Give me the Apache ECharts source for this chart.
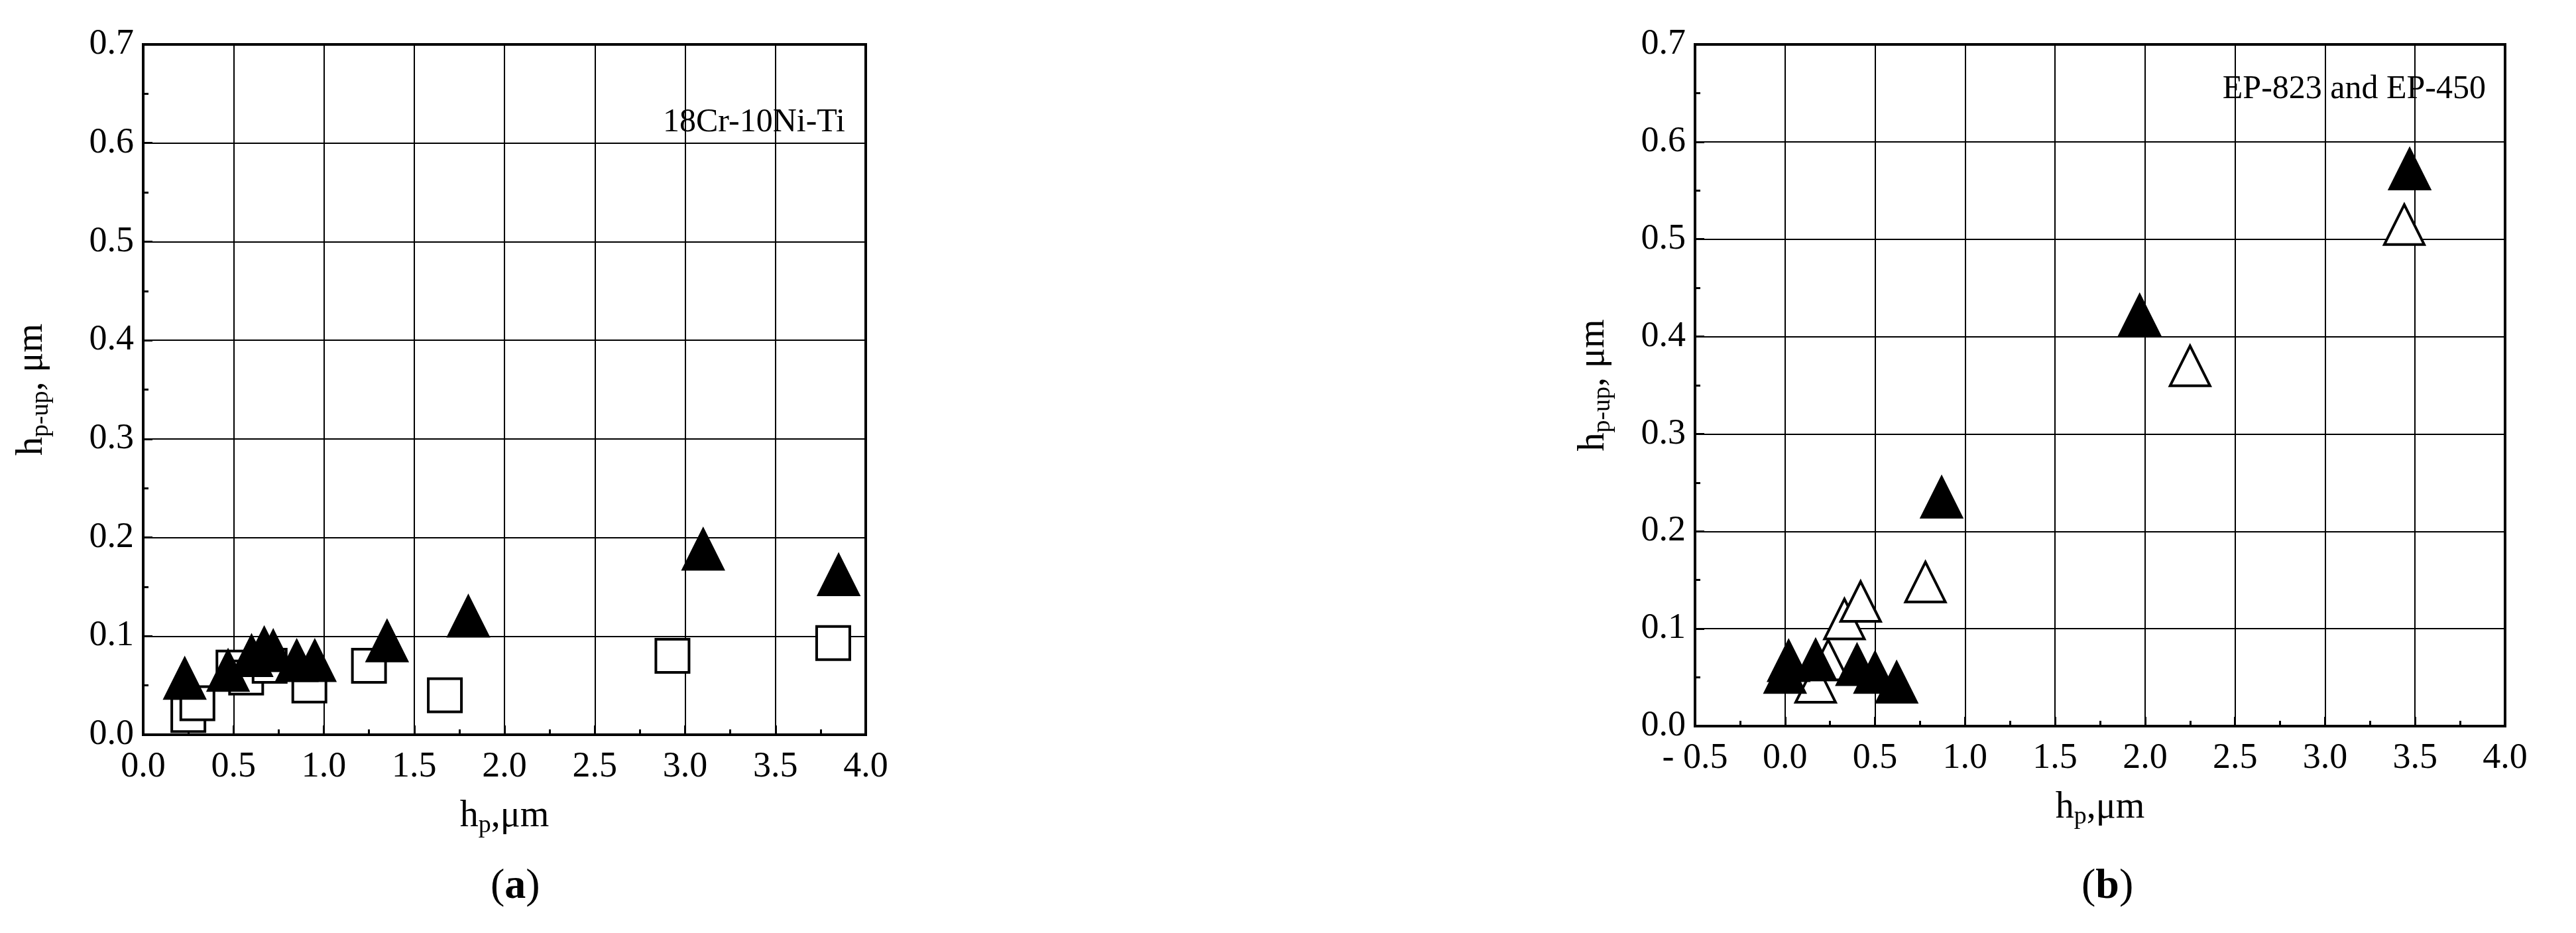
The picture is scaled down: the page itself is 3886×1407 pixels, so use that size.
<!DOCTYPE html>
<html><head><meta charset="utf-8">
<script src="https://cdn.jsdelivr.net/npm/echarts@6/dist/echarts.min.js"></script>
<style>html,body{margin:0;background:#fff}#c{width:3886px;height:1407px}</style>
</head><body><div id="c"></div>
<script>
const aFilled = [[0.23,0.057],[0.47,0.065],[0.6,0.08],[0.67,0.088],[0.72,0.085],[0.85,0.075],[0.95,0.075],[1.35,0.095],[1.8,0.12],[3.1,0.188],[3.85,0.162]];
const aOpen = [[0.25,0.02],[0.3,0.032],[0.5,0.068],[0.57,0.058],[0.7,0.07],[0.92,0.05],[1.25,0.07],[1.67,0.04],[2.93,0.08],[3.82,0.093]];
const bFilled = [[0.0,0.055],[0.02,0.067],[0.17,0.068],[0.4,0.063],[0.5,0.055],[0.62,0.045],[0.87,0.235],[1.97,0.422],[3.47,0.572]];
const bOpen = [[0.17,0.045],[0.24,0.068],[0.33,0.11],[0.42,0.128],[0.78,0.148],[2.25,0.37],[3.44,0.515]];
const F = 'Liberation Serif';
const chart = echarts.init(document.getElementById('c'));
function xAx(i,min){return {gridIndex:i,type:'value',min:min,max:4,interval:0.5,
  name:'{b|h}{s|p}{b|,μm}',nameLocation:'middle',nameGap:90,
  nameTextStyle:{rich:{b:{fontFamily:F,fontSize:56,color:'#000'},s:{fontFamily:F,fontSize:38,color:'#000',padding:[28,0,0,0]}}},
  axisLine:{onZero:false,lineStyle:{color:'#000',width:4}},axisTick:{inside:true,length:14,lineStyle:{color:'#000',width:3}},
  minorTick:{show:true,splitNumber:2,length:8,lineStyle:{color:'#000',width:3}},
  splitLine:{show:true,lineStyle:{color:'#000',width:2}},
  axisLabel:{fontFamily:F,fontSize:54,color:'#000',margin:22,formatter:v=>v<0?'- '+(-v).toFixed(1):v.toFixed(1)}};}
function yAx(i,gap){return {gridIndex:i,type:'value',min:0,max:0.7,interval:0.1,
  name:'{b|h}{s|p-up}{b|, μm}',nameLocation:'middle',nameGap:gap,
  nameTextStyle:{rich:{b:{fontFamily:F,fontSize:56,color:'#000'},s:{fontFamily:F,fontSize:38,color:'#000',padding:[28,0,0,0]}}},
  axisLine:{onZero:false,lineStyle:{color:'#000',width:4}},axisTick:{inside:true,length:14,lineStyle:{color:'#000',width:3}},
  minorTick:{show:true,splitNumber:2,length:8,lineStyle:{color:'#000',width:3}},
  splitLine:{show:true,lineStyle:{color:'#000',width:2}},
  axisLabel:{fontFamily:F,fontSize:54,color:'#000',margin:14,formatter:v=>v.toFixed(1)}};}
function ser(i,data,sym,filled,size){return {type:'scatter',xAxisIndex:i,yAxisIndex:i,data:data,symbol:sym,symbolSize:size,
  itemStyle:{color:filled?'#000':'#fff',borderColor:'#000',borderWidth:4,opacity:1}};}
chart.setOption({
  animation:false,
  grid:[{left:216,top:67,width:1090,height:1041},
        {left:2557,top:67,width:1222,height:1028}],
  xAxis:[xAx(0,0),xAx(1,-0.5)],
  yAxis:[yAx(0,135),yAx(1,120)],
  series:[ser(0,aOpen,'rect',false,50),ser(0,aFilled,'triangle',true,60),
          ser(1,bOpen,'triangle',false,60),ser(1,bFilled,'triangle',true,60)],
  graphic:[
    {type:'rect',shape:{x:216,y:67,width:1090,height:1041},style:{fill:'none',stroke:'#000',lineWidth:4},z:100,silent:true},
    {type:'rect',shape:{x:2557,y:67,width:1222,height:1028},style:{fill:'none',stroke:'#000',lineWidth:4},z:100,silent:true},
    {type:'text',right:3886-1275,top:160,style:{text:'18Cr-10Ni-Ti',font:'50px "Liberation Serif"',fill:'#000'}},
    {type:'text',right:3886-3750,top:110,style:{text:'EP-823 and EP-450',font:'50px "Liberation Serif"',fill:'#000'}},
    {type:'text',left:740,top:1305,style:{text:'({b|a})',font:'64px "Liberation Serif"',fill:'#000',rich:{b:{fontFamily:F,fontSize:64,fontWeight:'bold'}}}},
    {type:'text',left:3140,top:1305,style:{text:'({b|b})',font:'64px "Liberation Serif"',fill:'#000',rich:{b:{fontFamily:F,fontSize:64,fontWeight:'bold'}}}}
  ]
});
</script></body></html>
